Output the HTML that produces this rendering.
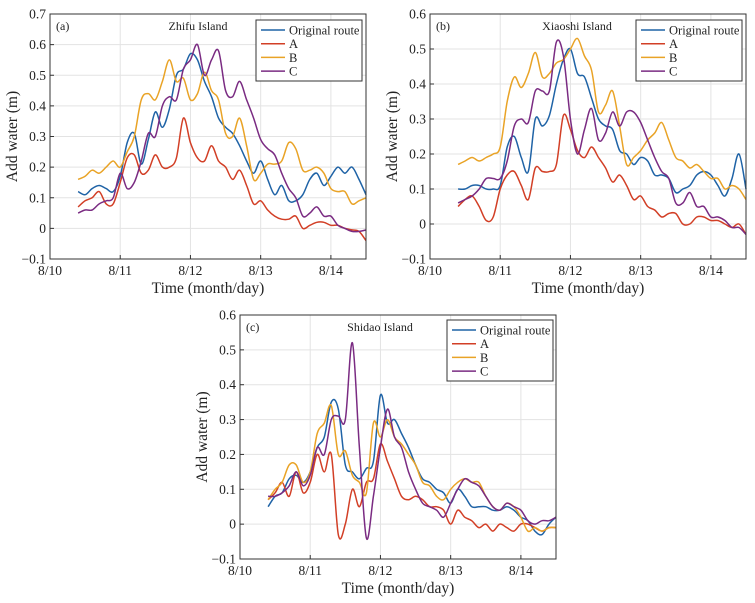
<!DOCTYPE html>
<html><head><meta charset="utf-8">
<style>
html,body{margin:0;padding:0;background:#fff;}
svg{display:block;font-family:"Liberation Serif",serif;}
</style></head>
<body>
<svg id="fig" width="755" height="603" viewBox="0 0 755 603"></svg>
<script>
const times = [0.4,0.5,0.6,0.7,0.8,0.9,1.0,1.1,1.2,1.3,1.4,1.5,1.6,1.7,1.8,1.9,2.0,2.1,2.2,2.3,2.4,2.5,2.6,2.7,2.8,2.9,3.0,3.1,3.2,3.3,3.4,3.5,3.6,3.7,3.8,3.9,4.0,4.1,4.2,4.3,4.4,4.5];
const xTickLabels = ["8/10","8/11","8/12","8/13","8/14"];
const seriesNames = ["Original route","A","B","C"];

const aOrig = [0.12,0.11,0.13,0.14,0.13,0.12,0.17,0.28,0.31,0.21,0.29,0.38,0.33,0.39,0.50,0.52,0.57,0.55,0.48,0.43,0.36,0.33,0.31,0.27,0.22,0.18,0.22,0.16,0.11,0.14,0.09,0.09,0.11,0.16,0.18,0.14,0.17,0.20,0.18,0.20,0.16,0.11];
const aA = [0.07,0.09,0.10,0.12,0.08,0.08,0.15,0.23,0.24,0.18,0.19,0.24,0.20,0.20,0.23,0.36,0.28,0.23,0.22,0.27,0.22,0.20,0.16,0.19,0.14,0.08,0.09,0.06,0.04,0.03,0.03,0.04,0.00,0.01,0.02,0.02,0.01,0.01,0.00,-0.005,-0.01,-0.04];
const aB = [0.16,0.17,0.19,0.18,0.20,0.22,0.20,0.25,0.30,0.42,0.44,0.42,0.48,0.55,0.48,0.49,0.42,0.44,0.51,0.45,0.42,0.31,0.30,0.36,0.27,0.16,0.18,0.21,0.21,0.22,0.28,0.26,0.19,0.19,0.20,0.18,0.13,0.12,0.12,0.08,0.09,0.10];
const aC = [0.05,0.06,0.06,0.08,0.09,0.10,0.18,0.13,0.15,0.22,0.31,0.30,0.40,0.43,0.42,0.52,0.55,0.60,0.50,0.55,0.58,0.45,0.43,0.48,0.42,0.36,0.29,0.26,0.24,0.18,0.13,0.10,0.04,0.05,0.07,0.04,0.04,0.01,0.00,-0.01,-0.01,-0.005];

const bOrig = [0.10,0.10,0.11,0.11,0.10,0.10,0.11,0.22,0.25,0.19,0.15,0.30,0.28,0.31,0.40,0.47,0.50,0.43,0.42,0.36,0.30,0.28,0.27,0.21,0.20,0.17,0.19,0.18,0.14,0.14,0.13,0.09,0.10,0.11,0.14,0.15,0.14,0.11,0.08,0.13,0.20,0.10];
const bA = [0.05,0.07,0.08,0.05,0.01,0.02,0.10,0.14,0.15,0.11,0.07,0.16,0.15,0.15,0.17,0.31,0.27,0.21,0.19,0.22,0.19,0.16,0.12,0.14,0.11,0.07,0.08,0.05,0.04,0.02,0.03,0.03,0.00,0.00,0.02,0.02,0.01,0.01,0.00,-0.01,0.00,-0.03];
const bB = [0.17,0.18,0.19,0.18,0.19,0.20,0.22,0.35,0.42,0.39,0.43,0.49,0.42,0.43,0.46,0.47,0.50,0.53,0.48,0.44,0.32,0.34,0.38,0.28,0.17,0.19,0.21,0.24,0.26,0.29,0.24,0.19,0.18,0.16,0.17,0.15,0.13,0.13,0.10,0.11,0.10,0.07];
const bC = [0.06,0.07,0.08,0.10,0.13,0.13,0.13,0.18,0.28,0.30,0.29,0.38,0.38,0.38,0.52,0.48,0.30,0.20,0.27,0.33,0.24,0.26,0.32,0.28,0.32,0.32,0.29,0.24,0.19,0.15,0.13,0.06,0.06,0.09,0.05,0.05,0.02,0.02,0.01,-0.01,-0.01,-0.03];

const cOrig = [0.05,0.08,0.09,0.13,0.14,0.12,0.15,0.22,0.25,0.35,0.33,0.17,0.15,0.13,0.16,0.18,0.37,0.29,0.30,0.26,0.22,0.17,0.13,0.12,0.10,0.09,0.06,0.10,0.08,0.05,0.05,0.05,0.04,0.04,0.05,0.04,0.02,0.01,-0.02,-0.03,0.00,0.02];
const cA = [0.07,0.09,0.12,0.08,0.15,0.09,0.12,0.20,0.15,0.20,-0.03,0.00,0.10,0.05,0.12,0.13,0.23,0.18,0.13,0.08,0.07,0.08,0.07,0.05,0.05,0.04,0.00,0.04,0.02,0.01,-0.01,0.00,-0.02,0.00,-0.01,-0.02,0.00,0.00,-0.01,-0.02,-0.01,-0.01];
const cB = [0.07,0.10,0.12,0.17,0.17,0.12,0.15,0.26,0.29,0.34,0.20,0.21,0.14,0.12,0.09,0.29,0.25,0.30,0.25,0.23,0.20,0.17,0.12,0.11,0.08,0.07,0.10,0.12,0.13,0.12,0.12,0.08,0.05,0.04,0.06,0.05,0.02,-0.02,-0.01,-0.02,-0.01,-0.01];
const cC = [0.08,0.08,0.09,0.11,0.15,0.11,0.14,0.22,0.20,0.30,0.31,0.30,0.52,0.22,-0.04,0.08,0.22,0.33,0.25,0.22,0.15,0.10,0.06,0.05,0.04,0.02,0.06,0.10,0.13,0.12,0.11,0.08,0.05,0.04,0.06,0.05,0.04,0.01,0.00,0.01,0.01,0.02];

const aTicks = [-0.1,0,0.1,0.2,0.3,0.4,0.5,0.6,0.7];
const bTicks = [-0.1,0,0.1,0.2,0.3,0.4,0.5,0.6];
const cTicks = [-0.1,0,0.1,0.2,0.3,0.4,0.5,0.6];

const colors = ["#1f63a6","#d23f26","#e9a326","#7a2b82"];
const NS = "http://www.w3.org/2000/svg";
const svg = document.getElementById("fig");

function mk(tag, attrs, parent){
  const e = document.createElementNS(NS, tag);
  for (const k in attrs) e.setAttribute(k, attrs[k]);
  (parent||svg).appendChild(e);
  return e;
}

function drawPanel(cfg){
  const g = mk("g", {});
  
  
  const {L,R,T,B,ymin,ymax} = cfg;
  const xs = t => L + (t/4.5)*(R-L);
  const ys = v => B - (v-ymin)/(ymax-ymin)*(B-T);
  for (let i=0;i<xTickLabels.length;i++){
    const x = xs(i);
    if (i>0){ const gl = mk("line",{x1:x,x2:x,y1:T,y2:B,stroke:"#e3e3e3","stroke-width":1},g);
        }
    mk("line",{x1:x,x2:x,y1:B,y2:B-4,stroke:"#333"},g);
    const tl = mk("text",{x:x,y:B+16,"text-anchor":"middle","font-size":13.5,fill:"#222"},g);
    tl.textContent = xTickLabels[i];
     
  }
  for (const v of cfg.ticks){
    const y = ys(v);
    if (v>ymin && v<ymax){ const gl = mk("line",{x1:L,x2:R,y1:y,y2:y,stroke:"#e3e3e3","stroke-width":1},g);
        }
    mk("line",{x1:L,x2:L+4,y1:y,y2:y,stroke:"#333"},g);
    const tl = mk("text",{x:L-4,y:y+4.5,"text-anchor":"end","font-size":13.5,fill:"#222"},g);
    tl.textContent = (v<0?"\u22120.1":(v===0?"0":v.toFixed(1)));
     
  }
  cfg.series.forEach((vals, si)=>{
    const pts = vals.map((v,i)=>[xs(times[i]), ys(v)]);
    let d = "M"+pts[0][0].toFixed(1)+","+pts[0][1].toFixed(1);
    for (let i=0;i<pts.length-1;i++){
      const p0=pts[Math.max(0,i-1)], p1=pts[i], p2=pts[i+1], p3=pts[Math.min(pts.length-1,i+2)];
      const c1=[p1[0]+(p2[0]-p0[0])/6, p1[1]+(p2[1]-p0[1])/6];
      const c2=[p2[0]-(p3[0]-p1[0])/6, p2[1]-(p3[1]-p1[1])/6];
      d += "C"+c1[0].toFixed(1)+","+c1[1].toFixed(1)+" "+c2[0].toFixed(1)+","+c2[1].toFixed(1)+" "+p2[0].toFixed(1)+","+p2[1].toFixed(1);
    }
    const p = mk("path",{d:d,fill:"none",stroke:colors[si],"stroke-width":1.5,"stroke-linejoin":"round"},g);
    
    
  });
  const fr = mk("rect",{x:L,y:T,width:R-L,height:B-T,fill:"none",stroke:"#333","stroke-width":1},g);
   
  const pl = mk("text",{x:L+6,y:T+16,"font-size":12,fill:"#222"},g);
  pl.textContent = cfg.label;
   
  const tt = mk("text",{x:cfg.titleX,y:T+16,"text-anchor":"middle","font-size":12,fill:"#222"},g);
  tt.textContent = cfg.title;
   
  const lg = mk("g",{},g);
   
  mk("rect",{x:cfg.lx,y:cfg.ly,width:106,height:61,fill:"#fff",stroke:"#333","stroke-width":1},lg);
  seriesNames.forEach((n,i)=>{
    const y = cfg.ly + 10 + i*13.7;
    const e = mk("g",{},lg);
     
    mk("line",{x1:cfg.lx+5,x2:cfg.lx+29,y1:y,y2:y,stroke:colors[i],"stroke-width":1.5},e);
    const t = mk("text",{x:cfg.lx+33,y:y+4.5,"font-size":12.5,fill:"#222"},e);
    t.textContent = n;
  });
  const yt = mk("text",{x:0,y:0,"text-anchor":"middle","font-size":15.5,fill:"#222",transform:"translate("+(L-33)+","+((T+B)/2)+") rotate(-90)"},g);
  yt.textContent = "Add water (m)";
   
  const xt = mk("text",{x:(L+R)/2,y:B+34,"text-anchor":"middle","font-size":15.5,fill:"#222"},g);
  xt.textContent = "Time (month/day)";
   
}

drawPanel({id:"zhifu",L:50,R:366,T:14,B:259,ymin:-0.1,ymax:0.7,ticks:aTicks,series:[aOrig,aA,aB,aC],label:"(a)",title:"Zhifu Island",titleX:198,lx:256,ly:20});
drawPanel({id:"xiaoshi",L:430,R:746,T:14,B:259,ymin:-0.1,ymax:0.6,ticks:bTicks,series:[bOrig,bA,bB,bC],label:"(b)",title:"Xiaoshi Island",titleX:577,lx:636,ly:20});
drawPanel({id:"shidao",L:240,R:556,T:315,B:559,ymin:-0.1,ymax:0.6,ticks:cTicks,series:[cOrig,cA,cB,cC],label:"(c)",title:"Shidao Island",titleX:380,lx:447,ly:320});
</script>
</body></html>
